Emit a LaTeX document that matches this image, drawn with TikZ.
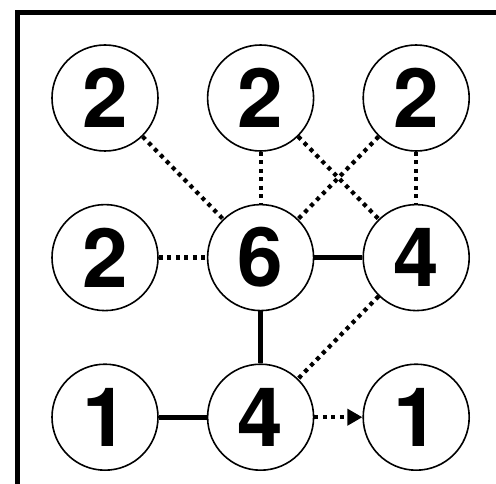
\documentclass[tikz,border=0pt]{standalone}
\usepackage{fontspec}
\setmainfont{TeX Gyre Heros}
\usetikzlibrary{positioning,arrows.meta}

\begin{document}
\begin{tikzpicture}[x=1pt, y=-1pt, node distance=52pt and 48pt, every node/.style={font=\fontsize{82}{82}\selectfont\bfseries}]
        \tikzstyle{cell}=[draw, circle, line width=1.6pt, minimum size=106pt, inner sep=0pt]
        \tikzstyle{link}=[line width=5pt]
        \tikzstyle{hint}=[line width=4.2pt, dash pattern=on 4pt off 4.5pt]
        \useasboundingbox (0,0) rectangle (496,484);
        % frame
        \draw[line width=5pt] (17,484) -- (17,13) -- (496,13);
        % top row
        \node[cell] at (105,98) (t1) {2};
        \node[cell, right=of t1] (t2) {2};
        \node[cell, right=of t2] (t3) {2};
        % middle row
        \node[cell, below=of t1] (m1) {2};
        \node[cell, below=of t2] (m2) {6};
        \node[cell, below=of t3] (m3) {4};
        % bottom row
        \node[cell, below=of m1] (b1) {1};
        \node[cell, below=of m2] (b2) {4};
        \node[cell, below=of m3] (b3) {1};
        \draw[hint] (t1) -- (m2);
        \draw[hint] (t2) -- (m2);
        \draw[hint] (t2) -- (m3);
        \draw[hint] (t3) -- (m2);
        \draw[hint] (t3) -- (m3);
        \draw[hint] (m1) -- (m2);
        \draw[link] (m2) -- (m3);
        \draw[link] (m2) -- (b2);
        \draw[hint] (m3) -- (b2);
        \draw[link] (b1) -- (b2);
        \draw[hint, -{Triangle[length=15pt, width=16pt]}] (b2) -- (b3);
      \end{tikzpicture}
\end{document}
